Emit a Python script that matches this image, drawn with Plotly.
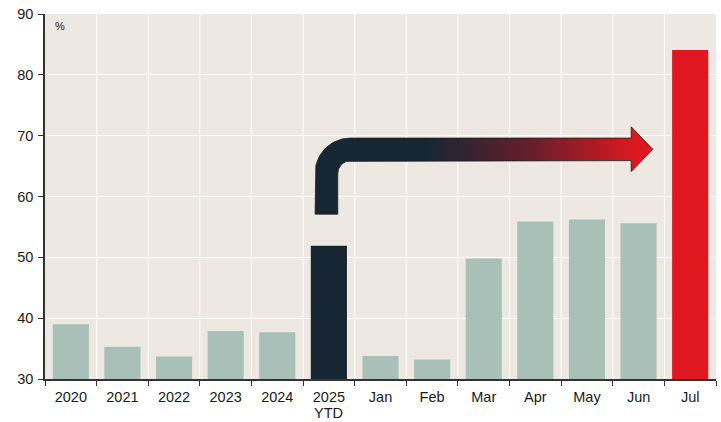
import numpy as np
import plotly.graph_objects as go

# Share of ... by period (%)
categories = ["2020", "2021", "2022", "2023", "2024", "2025",
              "Jan", "Feb", "Mar", "Apr", "May", "Jun", "Jul"]
values = [39.0, 35.3, 33.7, 37.9, 37.7, 51.9,
          33.8, 33.2, 49.8, 55.9, 56.2, 55.6, 84.1]
bar_kind = ["year", "year", "year", "year", "year", "ytd",
            "month", "month", "month", "month", "month", "month", "latest"]
y_ticks = [30, 40, 50, 60, 70, 80, 90]
ytd_index = bar_kind.index("ytd")

SAGE = "#A8C0B8"
NAVY = "#172633"
RED = "#DF1820"
BG = "#EEE8E2"
AXIS = "#333333"
FONT = "Liberation Sans, Arial, sans-serif"

palette = {"year": SAGE, "month": SAGE, "ytd": NAVY, "latest": RED}
colors = [palette[k] for k in bar_kind]

W, H = 721, 422
M_L, M_R, M_T, M_B = 45, 5, 14, 43
X_RANGE = [-0.5, len(categories) - 0.5]
Y_RANGE = [30, 90]
px_x = (W - M_L - M_R) / (X_RANGE[1] - X_RANGE[0])   # pixels per category
px_y = (H - M_T - M_B) / (Y_RANGE[1] - Y_RANGE[0])   # pixels per percentage point

xs = list(range(len(categories)))

fig = go.Figure()
fig.add_trace(go.Bar(
    x=xs, y=values, width=0.7,
    marker=dict(color=colors, line=dict(width=0)),
    hoverinfo="skip", showlegend=False,
))

# Bent arrow from the 2025 YTD bar over to the July bar
x_left, x_right = 4.733, 5.172      # vertical stem edges
y_bottom = 57.1                      # foot of the stem
y_top, y_low = 69.6, 65.9            # horizontal shaft edges
head_x, tip_x = 10.857, 11.277
head_top, head_bot, tip_y = 71.45, 64.1, 67.75
r_out, r_in = 35, 13                 # corner radii in pixels

t_out = np.linspace(np.pi, np.pi / 2, 24)
cx_o, cy_o = x_left + r_out / px_x, y_top - r_out / px_y
outer = [(cx_o + r_out / px_x * np.cos(t), cy_o + r_out / px_y * np.sin(t)) for t in t_out]
t_in = np.linspace(np.pi / 2, np.pi, 24)
cx_i, cy_i = x_right + r_in / px_x, y_low - r_in / px_y
inner = [(cx_i + r_in / px_x * np.cos(t), cy_i + r_in / px_y * np.sin(t)) for t in t_in]

pts = ([(x_left, y_bottom)] + outer +
       [(head_x, y_top), (head_x, head_top), (tip_x, tip_y), (head_x, head_bot), (head_x, y_low)] +
       inner + [(x_right, y_bottom), (x_left, y_bottom)])
ax_, ay_ = zip(*pts)

fig.add_trace(go.Scatter(
    x=list(ax_), y=list(ay_), mode="lines", fill="toself",
    line=dict(color="#1a1a1a", width=0.8),
    fillgradient=dict(type="horizontal",
                      colorscale=[[0, NAVY], [0.33, NAVY], [0.65, "#6a1f2b"], [0.95, "#DD1820"], [1, "#E01820"]]),
    hoverinfo="skip", showlegend=False,
))

boundaries = [i + 0.5 for i in range(len(categories) - 1)]

fig.update_layout(
    width=W, height=H,
    margin=dict(l=M_L, r=M_R, t=M_T, b=M_B),
    paper_bgcolor="white", plot_bgcolor=BG,
    font=dict(family=FONT, size=14.5, color="#1a1a1a"),
    bargap=0.3,
    xaxis=dict(
        range=X_RANGE, tickmode="array", tickvals=xs, ticktext=categories,
        ticks="", showgrid=False, zeroline=False, automargin=False,
        showline=True, linecolor=AXIS, linewidth=1.5,
        tickfont=dict(size=14.5), ticklabelstandoff=4,
        minor=dict(tickmode="array", tickvals=[-0.5] + boundaries + [12.5],
                   ticks="outside", ticklen=5, tickcolor=AXIS, tickwidth=1,
                   showgrid=False),
        fixedrange=True,
    ),
    yaxis=dict(
        range=Y_RANGE, tickmode="array", tickvals=y_ticks,
        ticks="outside", ticklen=5, tickcolor=AXIS, automargin=False,
        showgrid=True, gridcolor="white", gridwidth=1,
        zeroline=False, showline=True, linecolor=AXIS, linewidth=1.5,
        tickfont=dict(size=14.5), ticklabelstandoff=2, fixedrange=True,
    ),
    annotations=[
        dict(text="%", xref="paper", yref="paper", x=0.012, y=0.988,
             xanchor="left", yanchor="top", showarrow=False,
             font=dict(size=11, family=FONT)),
        # second line of the 2025 tick label
        dict(text="YTD", xref="x", yref="paper", x=ytd_index, y=0,
             xanchor="center", yanchor="top", yshift=-24, showarrow=False,
             font=dict(size=14.5, family=FONT, color="#1a1a1a")),
    ],
)

# vertical grid lines on the category boundaries
for b in boundaries:
    fig.add_shape(type="line", xref="x", yref="paper", x0=b, x1=b, y0=0, y1=1,
                  line=dict(color="white", width=1), layer="below")

fig.write_html("out.html")
